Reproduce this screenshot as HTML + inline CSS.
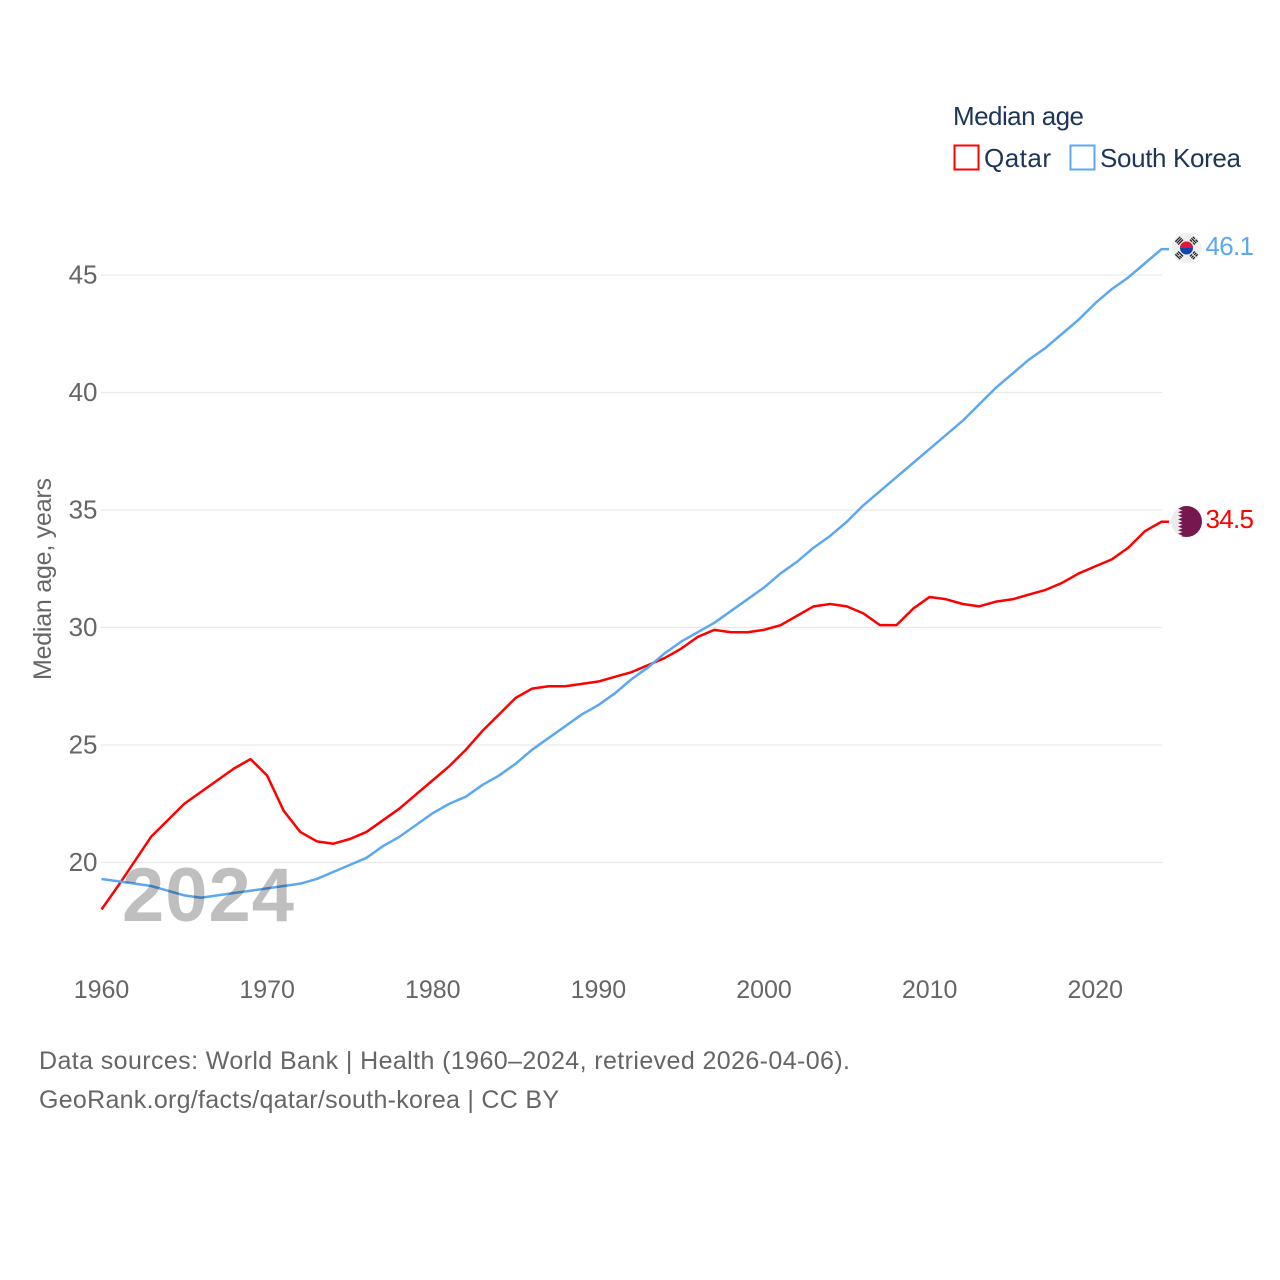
<!DOCTYPE html>
<html lang="en">
<head>
<meta charset="utf-8">
<title>Median age: Qatar and South Korea</title>
<style>
html,body{margin:0;padding:0;background:#fff;width:1280px;height:1280px;overflow:hidden}
svg{display:block}
text{font-family:"Liberation Sans",sans-serif}
.tick{font-size:25px;fill:#666}
.ytick{font-size:26px;fill:#666}
.foot{font-size:25px;fill:#666}
.leg{font-size:26px;fill:#1d3557}
</style>
</head>
<body>
<svg id="chart" xmlns="http://www.w3.org/2000/svg" width="1280" height="1280" viewBox="0 0 1280 1280">
  <rect x="0" y="0" width="1280" height="1280" fill="#fff"/>
  <g id="grid"></g>
  <g id="yticks"></g>
  <g id="xticks"></g>
  <text transform="translate(51,680) rotate(-90)" font-size="25" fill="#666" textLength="202">Median age, years</text>
  <g id="series"></g>
  <text x="122" y="921" font-size="76" font-weight="700" fill="#000" fill-opacity="0.25" textLength="172">2024</text>

  <text class="leg" x="953" y="125" textLength="131">Median age</text>
  <rect x="954.5" y="145.5" width="24" height="24" fill="#fff" stroke="#ff0000" stroke-width="2"/>
  <text class="leg" x="984" y="167" textLength="67">Qatar</text>
  <rect x="1070.5" y="145.5" width="24" height="24" fill="#fff" stroke="#5ca8f0" stroke-width="2"/>
  <text class="leg" x="1100" y="167" textLength="141">South Korea</text>

  <defs>
    <clipPath id="clip-kr"><circle cx="1186.5" cy="248" r="15"/></clipPath>
    <clipPath id="clip-qa"><circle cx="1186.5" cy="521.500" r="15.500"/></clipPath>
  </defs>
  <g clip-path="url(#clip-kr)">
    <circle cx="1186.5" cy="248" r="15" fill="#efefef"/>
    <circle cx="1186.5" cy="248" r="6.500" fill="#0f47af"/>
    <path d="M1180 248a6.500 6.500 0 0 1 13 0z" fill="#e0173a"/>
    <g fill="#222">
      <g transform="rotate(-45 1186.5 248)"><rect x="1183" y="235" width="7" height="1.300"/><rect x="1183" y="237" width="7" height="1.300"/><rect x="1183" y="239" width="7" height="1.300"/></g>
      <g transform="rotate(45 1186.5 248)"><rect x="1183" y="235" width="3" height="1.300"/><rect x="1187" y="235" width="3" height="1.300"/><rect x="1183" y="237" width="7" height="1.300"/><rect x="1183" y="239" width="3" height="1.300"/><rect x="1187" y="239" width="3" height="1.300"/></g>
      <g transform="rotate(-135 1186.5 248)"><rect x="1183" y="235" width="7" height="1.300"/><rect x="1183" y="237" width="3" height="1.300"/><rect x="1187" y="237" width="3" height="1.300"/><rect x="1183" y="239" width="7" height="1.300"/></g>
      <g transform="rotate(135 1186.5 248)"><rect x="1183" y="235" width="3" height="1.300"/><rect x="1187" y="235" width="3" height="1.300"/><rect x="1183" y="237" width="3" height="1.300"/><rect x="1187" y="237" width="3" height="1.300"/><rect x="1183" y="239" width="3" height="1.300"/><rect x="1187" y="239" width="3" height="1.300"/></g>
    </g>
  </g>
  <g clip-path="url(#clip-qa)">
    <circle cx="1186.5" cy="521.500" r="15.500" fill="#ececec"/>
    <path d="M1204 505H1178l4.500 1.800-4.500 1.800 4.500 1.800-4.500 1.800 4.500 1.800-4.500 1.800 4.500 1.800-4.500 1.800 4.500 1.800-4.500 1.800 4.500 1.800-4.500 1.800 4.500 1.800-4.500 1.800 4.500 1.800-4.500 1.800 4.500 1.800-4.500 1.800H1204z" fill="#76184f"/>
  </g>
  <text x="1205.500" y="255" font-size="26" fill="#5ca8f0" textLength="48.500">46.1</text>
  <text x="1205.500" y="528" font-size="26" fill="#ff0000" textLength="48.500">34.5</text>

  <text class="foot" x="39" y="1069" textLength="811">Data sources: World Bank | Health (1960–2024, retrieved 2026-04-06).</text>
  <text class="foot" x="39" y="1108" textLength="520">GeoRank.org/facts/qatar/south-korea | CC BY</text>
</svg>
<script>
const years = [1960,1961,1962,1963,1964,1965,1966,1967,1968,1969,1970,1971,1972,1973,1974,1975,1976,1977,1978,1979,1980,1981,1982,1983,1984,1985,1986,1987,1988,1989,1990,1991,1992,1993,1994,1995,1996,1997,1998,1999,2000,2001,2002,2003,2004,2005,2006,2007,2008,2009,2010,2011,2012,2013,2014,2015,2016,2017,2018,2019,2020,2021,2022,2023,2024];
const qatarValues = [18.0,19.0,20.05,21.1,21.8,22.5,23.0,23.5,24.0,24.4,23.7,22.2,21.3,20.9,20.8,21.0,21.3,21.8,22.3,22.9,23.5,24.1,24.8,25.6,26.3,27.0,27.4,27.5,27.5,27.6,27.7,27.9,28.1,28.4,28.7,29.1,29.6,29.9,29.8,29.8,29.9,30.1,30.5,30.9,31.0,30.9,30.6,30.1,30.1,30.8,31.3,31.2,31.0,30.9,31.1,31.2,31.4,31.6,31.9,32.3,32.6,32.9,33.4,34.1,34.5];
const koreaValues = [19.3,19.2,19.1,19.0,18.8,18.6,18.5,18.6,18.7,18.8,18.9,19.0,19.1,19.3,19.6,19.9,20.2,20.7,21.1,21.6,22.1,22.5,22.8,23.3,23.7,24.2,24.8,25.3,25.8,26.3,26.7,27.2,27.8,28.3,28.9,29.4,29.8,30.2,30.7,31.2,31.7,32.3,32.8,33.4,33.9,34.5,35.2,35.8,36.4,37.0,37.6,38.2,38.8,39.5,40.2,40.8,41.4,41.9,42.5,43.1,43.8,44.4,44.9,45.5,46.1];
const yTickValues = [20,25,30,35,40,45];
const xTickValues = [1960,1970,1980,1990,2000,2010,2020];

const NS = 'http://www.w3.org/2000/svg';
function xScale(year){ return 101.5 + (year - 1960) * 16.5625; }
function yScale(v){ return 862.5 - (v - 20) * 23.5; }

const gridGroup = document.getElementById('grid');
const yTickGroup = document.getElementById('yticks');
const xTickGroup = document.getElementById('xticks');
const seriesGroup = document.getElementById('series');

yTickValues.forEach(function(v){
  const line = document.createElementNS(NS,'line');
  
  
  line.setAttribute('x1', 101);
  line.setAttribute('x2', 1162);
  line.setAttribute('y1', yScale(v));
  line.setAttribute('y2', yScale(v));
  line.setAttribute('stroke', '#e9e9e9');
  line.setAttribute('stroke-width', '1.3');
  gridGroup.appendChild(line);

  const label = document.createElementNS(NS,'text');
  
  
  label.setAttribute('class', 'ytick');
  label.setAttribute('x', 97.5);
  label.setAttribute('y', yScale(v) + 8.5);
  label.setAttribute('text-anchor', 'end');
  label.textContent = String(v);
  yTickGroup.appendChild(label);
});

xTickValues.forEach(function(t){
  const label = document.createElementNS(NS,'text');
  
  
  label.setAttribute('class', 'tick');
  label.setAttribute('x', xScale(t));
  label.setAttribute('y', 998);
  label.setAttribute('text-anchor', 'middle');
  label.textContent = String(t);
  xTickGroup.appendChild(label);
});

function linePath(values){
  const pts = values.map(function(v,i){ return xScale(years[i]).toFixed(2) + ',' + yScale(v).toFixed(2); });
  const last = values[values.length - 1];
  pts.push((xScale(years[years.length - 1]) + 7.5).toFixed(2) + ',' + yScale(last).toFixed(2));
  return 'M' + pts.join('L');
}

const qatarLine = document.createElementNS(NS,'path');


qatarLine.setAttribute('d', linePath(qatarValues));
qatarLine.setAttribute('fill', 'none');
qatarLine.setAttribute('stroke', '#ff0000');
qatarLine.setAttribute('stroke-width', '2.5');
qatarLine.setAttribute('stroke-linejoin', 'round');
seriesGroup.appendChild(qatarLine);

const koreaLine = document.createElementNS(NS,'path');


koreaLine.setAttribute('d', linePath(koreaValues));
koreaLine.setAttribute('fill', 'none');
koreaLine.setAttribute('stroke', '#5ca8f0');
koreaLine.setAttribute('stroke-width', '2.5');
koreaLine.setAttribute('stroke-linejoin', 'round');
seriesGroup.appendChild(koreaLine);
</script>
</body>
</html>
